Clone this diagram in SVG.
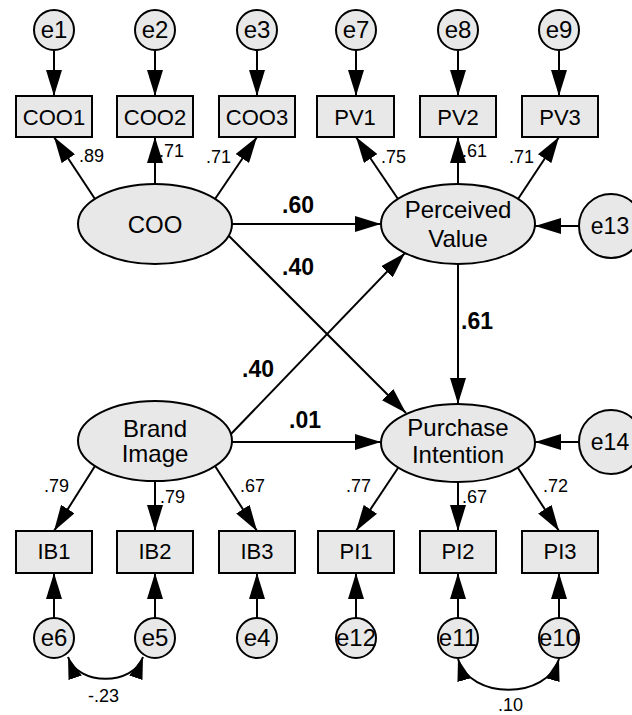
<svg xmlns="http://www.w3.org/2000/svg" width="632" height="715" viewBox="0 0 632 715">
<style>
text{font-family:"Liberation Sans",Arial,Helvetica,sans-serif;fill:#000}
.shape{fill:#e8e8e8;stroke:#000;stroke-width:2}
.lbl{font-size:22px;text-anchor:middle}
.lat{font-size:24px;text-anchor:middle}
.err{font-size:24px;text-anchor:middle}
.coef{font-size:18px}
.path{font-size:23px;font-weight:bold}
.ln{stroke:#000;stroke-width:2;fill:none}
.arr{marker-end:url(#ah)}
.cov{marker-start:url(#ahs);marker-end:url(#ahs)}
</style>
<defs>
<marker id="ah" markerUnits="userSpaceOnUse" viewBox="0 0 26 16" refX="26" refY="8" markerWidth="26" markerHeight="16" orient="auto">
<path d="M0,0 L26,8 L0,16 z" fill="#000"/>
</marker>
<marker id="ahs" markerUnits="userSpaceOnUse" viewBox="0 0 22 14" refX="22" refY="7" markerWidth="22" markerHeight="14" orient="auto-start-reverse">
<path d="M0,0 L22,7 L0,14 z" fill="#000"/>
</marker>
</defs>
<rect width="632" height="715" fill="#fff"/>

<g id="connectors">
<line class="ln arr" x1="54" y1="51" x2="54" y2="96"/>
<line class="ln arr" x1="155" y1="51" x2="155" y2="96"/>
<line class="ln arr" x1="257" y1="51" x2="257" y2="96"/>
<line class="ln arr" x1="356" y1="51" x2="356" y2="96"/>
<line class="ln arr" x1="458" y1="51" x2="458" y2="96"/>
<line class="ln arr" x1="559" y1="51" x2="559" y2="96"/>
<line class="ln arr" x1="95" y1="199" x2="54" y2="137"/>
<line class="ln arr" x1="155" y1="184" x2="155" y2="137"/>
<line class="ln arr" x1="215" y1="199" x2="257" y2="137"/>
<line class="ln arr" x1="398" y1="199" x2="356" y2="137"/>
<line class="ln arr" x1="458" y1="184" x2="458" y2="137"/>
<line class="ln arr" x1="518" y1="199" x2="559" y2="137"/>
<line class="ln arr" x1="232" y1="224" x2="381" y2="224"/>
<line class="ln arr" x1="229" y1="236" x2="406" y2="413"/>
<line class="ln arr" x1="231" y1="434" x2="405" y2="253"/>
<line class="ln arr" x1="232" y1="442" x2="381" y2="442"/>
<line class="ln arr" x1="458" y1="264" x2="458" y2="404"/>
<line class="ln arr" x1="579" y1="226" x2="535" y2="226"/>
<line class="ln arr" x1="579" y1="442" x2="535" y2="442"/>
<line class="ln arr" x1="95" y1="466" x2="54" y2="531"/>
<line class="ln arr" x1="155" y1="481" x2="155" y2="531"/>
<line class="ln arr" x1="215" y1="466" x2="257" y2="531"/>
<line class="ln arr" x1="398" y1="468" x2="356" y2="531"/>
<line class="ln arr" x1="458" y1="482" x2="458" y2="531"/>
<line class="ln arr" x1="518" y1="468" x2="559" y2="531"/>
<line class="ln arr" x1="54" y1="618" x2="54" y2="573"/>
<line class="ln arr" x1="155" y1="618" x2="155" y2="573"/>
<line class="ln arr" x1="257" y1="618" x2="257" y2="573"/>
<line class="ln arr" x1="356" y1="618" x2="356" y2="573"/>
<line class="ln arr" x1="458" y1="618" x2="458" y2="573"/>
<line class="ln arr" x1="559" y1="618" x2="559" y2="573"/>
<path class="ln cov" d="M68,657 C78,686 133,686 143,657"/>
<path class="ln cov" d="M458,659 C470,700 547,700 559,659"/>
<text class="coef" x="79" y="162">.89</text>
<text class="coef" x="159" y="157">.71</text>
<text class="coef" x="206" y="163">.71</text>
<text class="coef" x="381" y="163">.75</text>
<text class="coef" x="462" y="157">.61</text>
<text class="coef" x="509" y="163">.71</text>
<text class="coef" x="44" y="492">.79</text>
<text class="coef" x="160" y="503">.79</text>
<text class="coef" x="240" y="492">.67</text>
<text class="coef" x="346" y="492">.77</text>
<text class="coef" x="462" y="503">.67</text>
<text class="coef" x="543" y="492">.72</text>
<text class="coef" x="88" y="702">-.23</text>
<text class="coef" x="498" y="711">.10</text>
<text class="path" x="282" y="213">.60</text>
<text class="path" x="282" y="275">.40</text>
<text class="path" x="242" y="377">.40</text>
<text class="path" x="289" y="428">.01</text>
<text class="path" x="461" y="329">.61</text>
</g>

<g id="e1"><circle class="shape" cx="54" cy="30" r="20"/><text class="err" x="54" y="38">e1</text></g>
<g id="e2"><circle class="shape" cx="155" cy="30" r="20"/><text class="err" x="155" y="38">e2</text></g>
<g id="e3"><circle class="shape" cx="257" cy="30" r="20"/><text class="err" x="257" y="38">e3</text></g>
<g id="e7"><circle class="shape" cx="356" cy="30" r="20"/><text class="err" x="356" y="38">e7</text></g>
<g id="e8"><circle class="shape" cx="458" cy="30" r="20"/><text class="err" x="458" y="38">e8</text></g>
<g id="e9"><circle class="shape" cx="559" cy="30" r="20"/><text class="err" x="559" y="38">e9</text></g>

<g id="COO1"><rect class="shape" x="16" y="96" width="76" height="41"/><text class="lbl" x="54" y="125">COO1</text></g>
<g id="COO2"><rect class="shape" x="117" y="96" width="76" height="41"/><text class="lbl" x="155" y="125">COO2</text></g>
<g id="COO3"><rect class="shape" x="219" y="96" width="76" height="41"/><text class="lbl" x="257" y="125">COO3</text></g>
<g id="PV1"><rect class="shape" x="317" y="96" width="77" height="41"/><text class="lbl" x="355" y="125">PV1</text></g>
<g id="PV2"><rect class="shape" x="420" y="96" width="76" height="41"/><text class="lbl" x="458" y="125">PV2</text></g>
<g id="PV3"><rect class="shape" x="522" y="96" width="76" height="41"/><text class="lbl" x="560" y="125">PV3</text></g>

<g id="COO"><ellipse class="shape" cx="155" cy="224" rx="77" ry="40"/><text class="lat" x="155" y="233">COO</text></g>
<g id="PerceivedValue"><ellipse class="shape" cx="458" cy="224" rx="77" ry="40"/><text class="lat" x="458" y="218">Perceived</text><text class="lat" x="458" y="247">Value</text></g>
<g id="e13"><circle class="shape" cx="611" cy="226" r="32"/><text class="err" x="610" y="234" style="font-size:23px">e13</text></g>

<g id="BrandImage"><ellipse class="shape" cx="155" cy="441" rx="77" ry="40"/><text class="lat" x="155" y="437">Brand</text><text class="lat" x="155" y="462">Image</text></g>
<g id="PurchaseIntention"><ellipse class="shape" cx="458" cy="443" rx="77" ry="39"/><text class="lat" x="458" y="436">Purchase</text><text class="lat" x="458" y="463">Intention</text></g>
<g id="e14"><circle class="shape" cx="611" cy="442" r="32"/><text class="err" x="610" y="450" style="font-size:23px">e14</text></g>

<g id="IB1"><rect class="shape" x="16" y="531" width="76" height="42"/><text class="lbl" x="54" y="559">IB1</text></g>
<g id="IB2"><rect class="shape" x="117" y="531" width="76" height="42"/><text class="lbl" x="155" y="559">IB2</text></g>
<g id="IB3"><rect class="shape" x="219" y="531" width="76" height="42"/><text class="lbl" x="257" y="559">IB3</text></g>
<g id="PI1"><rect class="shape" x="318" y="531" width="76" height="42"/><text class="lbl" x="356" y="559">PI1</text></g>
<g id="PI2"><rect class="shape" x="420" y="531" width="76" height="42"/><text class="lbl" x="458" y="559">PI2</text></g>
<g id="PI3"><rect class="shape" x="522" y="531" width="76" height="42"/><text class="lbl" x="560" y="559">PI3</text></g>

<g id="e6"><circle class="shape" cx="54" cy="638" r="20"/><text class="err" x="54" y="646">e6</text></g>
<g id="e5"><circle class="shape" cx="155" cy="638" r="20"/><text class="err" x="155" y="646">e5</text></g>
<g id="e4"><circle class="shape" cx="257" cy="638" r="20"/><text class="err" x="257" y="646">e4</text></g>
<g id="e12"><circle class="shape" cx="356" cy="638" r="20"/><text class="err" x="356" y="646">e12</text></g>
<g id="e11"><circle class="shape" cx="458" cy="638" r="20"/><text class="err" x="458" y="646">e11</text></g>
<g id="e10"><circle class="shape" cx="559" cy="638" r="20"/><text class="err" x="559" y="646">e10</text></g>
</svg>
